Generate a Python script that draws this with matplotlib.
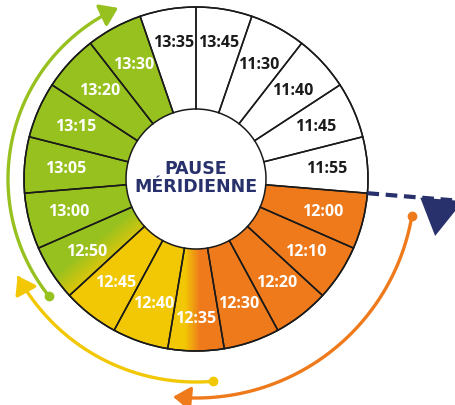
import numpy as np
import matplotlib.pyplot as plt
from matplotlib.patches import Wedge, Circle, Polygon, FancyArrowPatch
from matplotlib.path import Path

# segments, clockwise from the top
labels = ['13:45', '11:30', '11:40', '11:45', '11:55', '12:00', '12:10', '12:20',
          '12:30', '12:35', '12:40', '12:45', '12:50', '13:00', '13:05', '13:15',
          '13:20', '13:30', '13:35']
fills = ['w', 'w', 'w', 'w', 'w', 'o', 'o', 'o', 'o', 'yo', 'y', 'y', 'gy',
         'g', 'g', 'g', 'g', 'g', 'w']

colors = {'w': '#ffffff', 'o': '#ee7a1c', 'y': '#f2c805', 'g': '#97c11f'}
navy = '#28316c'

fig = plt.figure(figsize=(4.56, 4.06), dpi=100)
ax = fig.add_axes([0, 0, 1, 1])
ax.set_xlim(0, 456)
ax.set_ylim(0, 406)
ax.axis('off')

cx, cy = 196, 226
R, r = 172, 70
n = len(labels)
step = 360 / n


def hexrgb(h):
    return np.array([int(h[i:i + 2], 16) / 255 for i in (1, 3, 5)])


def gradient(c0, c1, p0, p1):
    # linear gradient from point p0 (colour c0) to point p1 (colour c1)
    xx, yy = np.meshgrid(np.arange(0, 456) + 0.5, np.arange(0, 406) + 0.5)
    d = np.array(p1) - np.array(p0)
    t = ((xx - p0[0]) * d[0] + (yy - p0[1]) * d[1]) / (d @ d)
    t = np.clip(t, 0, 1)[..., None]
    return hexrgb(c0) * (1 - t) + hexrgb(c1) * t


grads = {
    'yo': ('y', 'o', (185, 0), (200, 0)),
    'gy': ('g', 'y', (86, 156), (106, 132)),
}

for i, (lab, f) in enumerate(zip(labels, fills)):
    t2 = 90 - i * step
    t1 = t2 - step
    if f in grads:
        w = Wedge((cx, cy), R, t1, t2, width=R - r, facecolor='none', edgecolor='none')
        ax.add_patch(w)
        c0, c1, p0, p1 = grads[f]
        img = gradient(colors[c0], colors[c1], p0, p1)
        im = ax.imshow(img, extent=[0, 456, 0, 406], origin='lower', zorder=1)
        im.set_clip_path(w)
    else:
        ax.add_patch(Wedge((cx, cy), R, t1, t2, width=R - r,
                           facecolor=colors[f], edgecolor='none', zorder=1))
    ax.add_patch(Wedge((cx, cy), R, t1, t2, width=R - r, facecolor='none',
                       edgecolor='#1a1a1a', lw=1.1, zorder=2))
    mid = np.radians((t1 + t2) / 2)
    # the narrow top/bottom cells have their label pushed a bit outward
    rl = 139 if abs(np.sin(mid)) > 0.95 else 131
    ax.text(cx + rl * np.cos(mid), cy + rl * np.sin(mid), lab,
            ha='center', va='center', fontsize=11.5, fontweight='bold',
            family='Open Sans', color='#1a1a1a' if f == 'w' else 'white', zorder=3)

ax.add_patch(Circle((cx, cy), R, facecolor='none', edgecolor='#1a1a1a', lw=1.1, zorder=2))

ax.text(cx, cy + 2, 'PAUSE\nMÉRIDIENNE', ha='center', va='center',
        fontsize=12.5, fontweight='heavy', family='DejaVu Sans', color=navy,
        linespacing=1.05, zorder=3)


def arc(rad, a0, a1, col):
    th = np.radians(np.linspace(a0, a1, 120))
    pts = np.column_stack([cx + rad * np.cos(th), cy + rad * np.sin(th)])
    ax.add_patch(FancyArrowPatch(path=Path(pts), arrowstyle='-|>,head_length=0.65,head_width=0.45',
                                 mutation_scale=16, lw=2.4, color=col, zorder=3))
    ax.plot(pts[0, 0], pts[0, 1], 'o', ms=6, color=col, zorder=3)


arc(188, 218.5, 114.5, '#97c11f')
arc(203, 274.8, 208.5, '#f2c805')
arc(219, -9.7, -96, '#ee7a1c')

# dashed pointer along the 12:00 / 11:55 boundary
ang = np.radians(90 - 5 * step)
u = np.array([np.cos(ang), np.sin(ang)])
nrm = np.array([np.sin(ang), -np.cos(ang)])
c = np.array([cx, cy])
p0 = c + R * u
p1 = c + 275 * u
ax.plot([p0[0], p1[0]], [p0[1], p1[1]], color=navy, lw=3, dashes=(2.8, 1.6), zorder=3)
tri = [c + 225 * u, c + 268 * u, c + 243 * u + 37 * nrm]
ax.add_patch(Polygon(tri, closed=True, facecolor=navy, edgecolor='none', zorder=3))

fig.savefig('out.png', dpi=100)
